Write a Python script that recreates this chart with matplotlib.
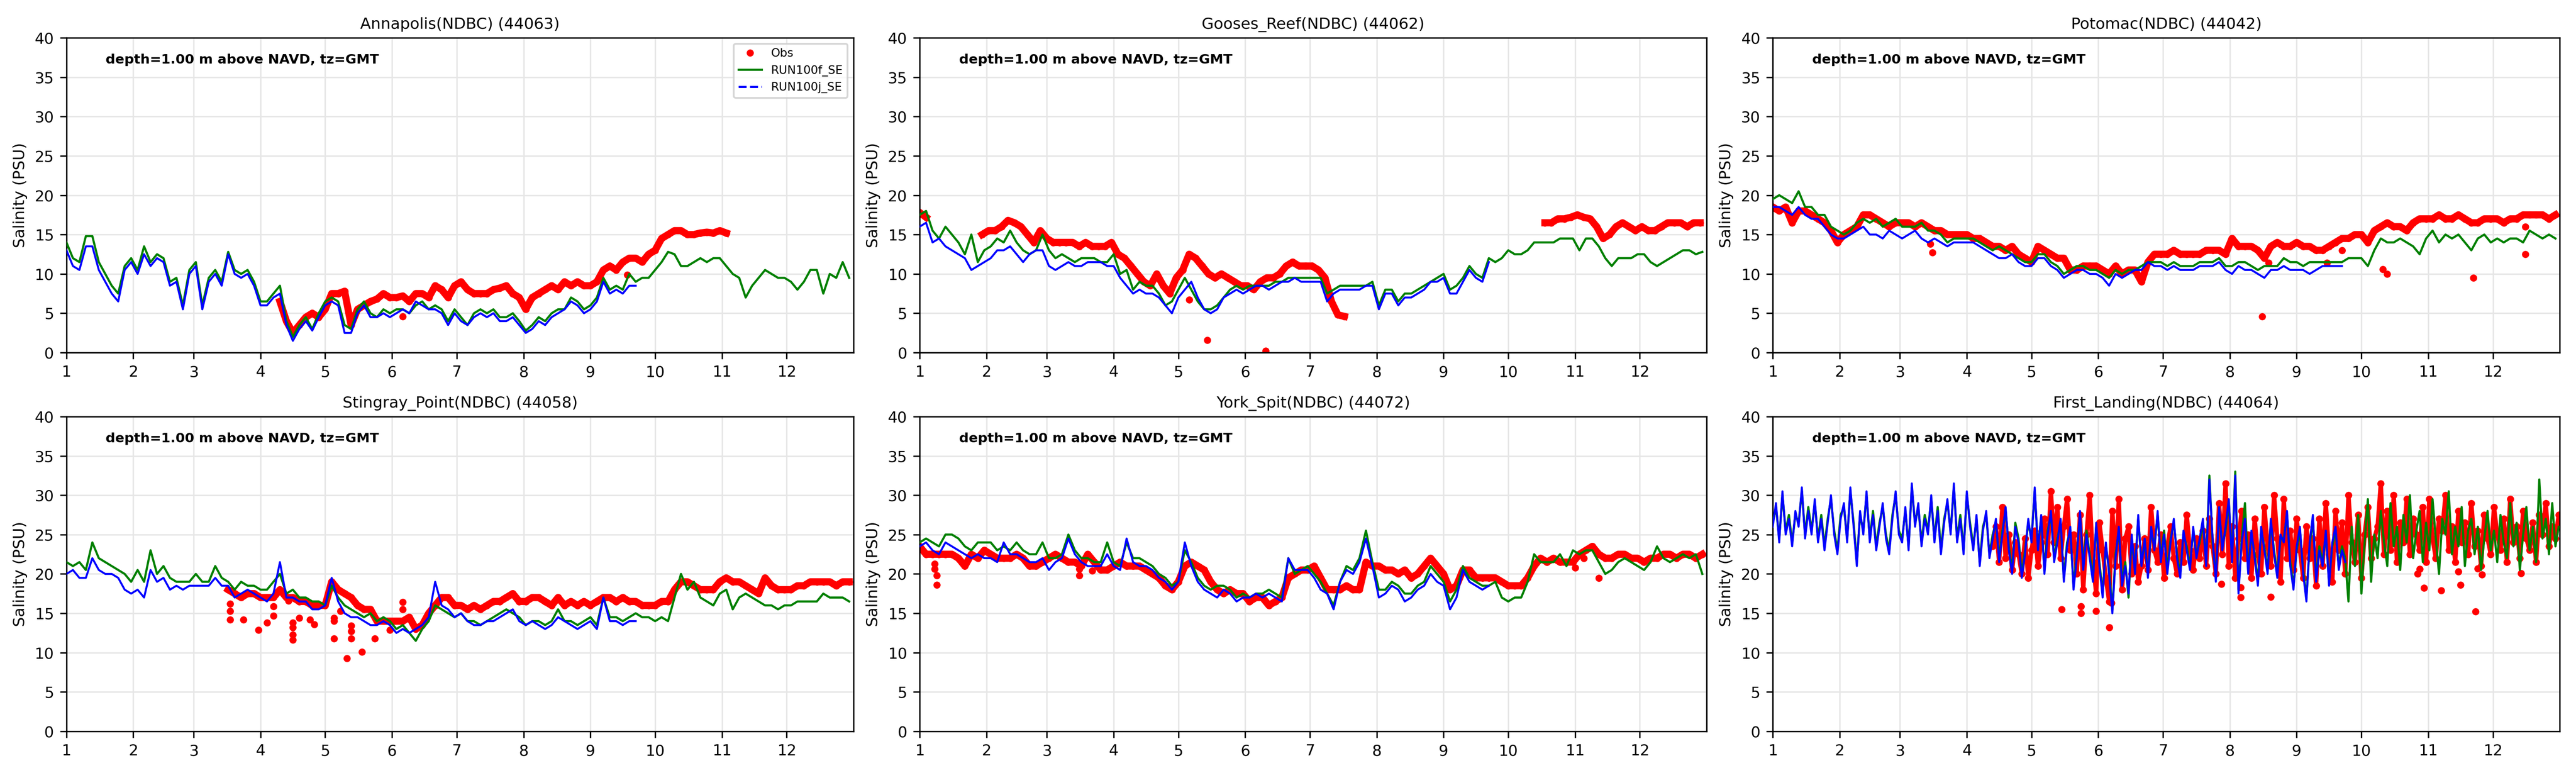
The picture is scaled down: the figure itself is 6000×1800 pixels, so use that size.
import numpy as np
import matplotlib
matplotlib.use('Agg')
import matplotlib.pyplot as plt
from matplotlib.lines import Line2D

# month starts (day of year, 0-based) used as x ticks 1..12
MONTH_START = [0, 31, 59, 90, 120, 151, 181, 212, 243, 273, 304, 334]
MONTH_LABELS = [str(m) for m in range(1, 13)]

STEP = 3.0      # days between read-off samples
FL_STEP = 1.5   # First_Landing is noisier, read at finer spacing

# ---------------- Annapolis(NDBC) (44063)
annapolis_f = [14, 12, 11.5, 14.8, 14.8, 11.5, 10, 8.5, 7.5, 11,
               12, 10.5, 13.5, 11.5, 12.5, 12, 9, 9.5, 6, 10.5,
               11.5, 6, 9.5, 10.5, 9, 12.8, 10.5, 10, 10.5, 9,
               6.5, 6.5, 7.5, 8.5, 4, 2, 3.5, 4.5, 3, 5,
               6.5, 7, 6.5, 3.5, 3, 5.5, 6.5, 5, 4.5, 5.5,
               5, 5.5, 5.5, 5, 6, 6.5, 5.5, 6, 5.5, 4,
               5.5, 4.5, 3.5, 5, 5.5, 5, 5.5, 4.5, 4.5, 5,
               4, 2.8, 3.5, 4.5, 4, 5, 5.5, 5.5, 7, 6.5,
               5.5, 6, 7, 9.5, 8, 8.5, 8, 10, 9, 9.5,
               9.5, 10.5, 11.5, 12.8, 12.5, 11, 11, 11.5, 12, 11.5,
               12, 12, 11, 10, 9.5, 7, 8.5, 9.5, 10.5, 10,
               9.5, 9.5, 9, 8, 9, 10.5, 10.5, 7.5, 10, 9.5,
               11.5, 9.5]
annapolis_j = [13, 11, 10.5, 13.5, 13.5, 10.5, 9, 7.5, 6.5, 10.5,
               11.5, 10, 12.5, 11, 12, 11.5, 8.5, 9, 5.5, 10,
               11, 5.5, 9, 10, 8.5, 12.5, 10, 9.5, 10, 8.5,
               6, 6, 7, 7.5, 3.5, 1.5, 3, 4, 2.8, 4.5,
               6, 6.5, 6, 2.5, 2.5, 5, 6, 4.5, 4.5, 5,
               4.5, 5, 5.5, 5, 6.5, 6, 5.5, 5.5, 5, 3.5,
               5, 4, 3.5, 4.5, 5, 4.5, 5, 4, 4, 4.5,
               3.5, 2.5, 3, 4, 3.5, 4.5, 5, 5.5, 6.5, 6,
               5, 5.5, 6.5, 9, 7.5, 8, 7.5, 8.5, 8.5]
annapolis_obs = [(99, [6.5, 4, 2.5, 3.5, 4.5, 5, 4.5, 5.5, 7.5, 7.5,
                       7.8, 3.5, 5.5, 6, 6.5, 6.8, 7.5, 7, 7, 7.2,
                       6.5, 7.5, 7.5, 7, 8.5, 8, 7, 8.5, 9, 8,
                       7.5, 7.5, 7.5, 8, 8.2, 8.5, 7.5, 7, 5.5, 7,
                       7.5, 8, 8.5, 8, 9, 8.5, 9, 8.5, 8.5, 9,
                       10.5, 11, 10.5, 11.5, 12, 12, 11.5, 12.5, 13, 14.5,
                       15, 15.5, 15.5, 15, 15, 15.2, 15.3, 15.2, 15.5, 15.2])]
annapolis_out_days = [156, 260]
annapolis_out_vals = [4.6, 9.9]

# ---------------- Gooses_Reef(NDBC) (44062)
gooses_f = [17.5, 18, 15.5, 14.5, 16, 15, 14, 12.5, 15, 11.5,
            13, 13.5, 14.5, 14, 15.5, 14, 13, 12.5, 13, 15,
            13, 12, 12.5, 12, 11.5, 12, 12, 12, 11.5, 11.5,
            12.5, 10, 10.5, 8, 9, 8.5, 8.5, 7.5, 6, 6.5,
            8, 9.5, 8, 6.5, 5.5, 5.5, 6, 7, 8, 8.5,
            8, 8.5, 8.5, 8.5, 8.5, 9, 9, 9.5, 9.5, 9.5,
            9.5, 9.5, 9.5, 7.5, 8, 8.5, 8.5, 8.5, 8.5, 8.5,
            9, 6, 8, 8, 6.5, 7.5, 7.5, 8, 8.5, 9,
            9.5, 10, 8, 8.5, 9.5, 11, 10, 9.5, 12, 11.5,
            12, 13, 12.5, 12.5, 13, 14, 14, 14, 14, 14.5,
            14.5, 14.5, 13, 14.5, 14.5, 13.5, 12, 11, 12, 12,
            12, 12.5, 12.5, 11.5, 11, 11.5, 12, 12.5, 13, 13,
            12.5, 12.8]
gooses_j = [16, 16.5, 14, 14.5, 13.5, 13, 12.5, 12, 10.5, 11,
            11.5, 12, 13, 13, 13.5, 12.5, 11.5, 12.5, 13, 13,
            11, 10.5, 11, 11.5, 11, 11, 11.5, 11.5, 11.5, 11,
            11, 9.5, 8.5, 7.5, 8, 7.5, 7.5, 7, 6, 5,
            7, 8, 9, 7, 5.5, 5, 5.5, 7, 7.5, 8,
            7.5, 8, 8.5, 8.5, 8, 8.5, 9, 9, 9.5, 9,
            9, 9, 9, 6.5, 7.5, 8, 8, 8, 8, 8.5,
            8.5, 5.5, 7.5, 7.5, 6, 7, 7, 7.5, 8, 9,
            9, 9.5, 7.5, 7.5, 9, 10.5, 9.5, 9, 11.5]
gooses_obs = [(0, [17.8, 17.2]),
              (29, [15, 15.5, 15.5, 16, 16.8, 16.5, 16, 15, 14, 15.5,
                    14.5, 14, 14, 14, 14, 13.5, 14, 13.5, 13.5, 13.5,
                    14, 12.5, 12, 11, 10, 9, 8.5, 10, 8.5, 7.5,
                    9.5, 10.5, 12.5, 12, 11, 10, 9.5, 10, 9.5, 9,
                    8.5, 8.5, 8, 9, 9.5, 9.5, 10, 11, 11.5, 11,
                    11, 11, 10.5, 9.5, 6.5, 4.8, 4.6]),
              (290, [16.5, 16.5, 17, 17, 17.2, 17.5, 17.2, 17, 16, 14.5,
                     15, 16, 16.5, 16, 15.5, 16, 15.5, 15.5, 16, 16.5,
                     16.5, 16.5, 16, 16.5, 16.5])]
gooses_out_days = [125, 133.5, 160.5]
gooses_out_vals = [6.7, 1.6, 0.2]

# ---------------- Potomac(NDBC) (44042)
potomac_f = [19.5, 20, 19.5, 19, 20.5, 18.5, 18.5, 17.5, 17.5, 16,
             15.5, 15, 15.5, 16.5, 17, 16.5, 17, 16, 16.5, 17,
             16, 16, 16, 16.5, 15.5, 15.5, 15, 14, 14.5, 14.5,
             14.5, 14.5, 14, 13.5, 13, 13.5, 13, 12.5, 12, 11.5,
             11.5, 12.5, 12.5, 11.5, 11, 10, 10.5, 11, 11, 10.5,
             10.5, 10, 9.5, 10.5, 10, 10.5, 10.5, 11, 11.5, 11.5,
             11.5, 11, 11.5, 11, 11, 11, 11.5, 11.5, 11.5, 12,
             11, 11, 11.5, 11.5, 11, 10.5, 11, 11, 11, 12,
             11.5, 11.5, 11, 11.5, 11.5, 11.5, 11.5, 11.5, 11.5, 12,
             12, 12, 11, 13, 14.5, 14, 14, 14.5, 14, 13.5,
             12.5, 14.5, 15.5, 14, 15, 14.5, 15, 14, 13, 14.5,
             15, 14, 14.5, 14, 14.5, 14.5, 14, 15.5, 15, 14.5,
             15, 14.5]
potomac_j = [18.5, 18.5, 18, 17.5, 18.5, 17.5, 17, 17, 16, 15,
             14.5, 14.5, 15, 15.5, 16, 15, 15, 14.5, 15.5, 15,
             14.5, 15, 15.5, 14.5, 14, 14.5, 14, 13.5, 14, 14,
             14, 14, 13.5, 13, 12.5, 12, 12, 12.5, 11.5, 11,
             11, 12, 12, 11, 10.5, 9.5, 10, 10.5, 10.5, 10,
             10, 9.5, 8.5, 10, 9.5, 10, 10.5, 10.5, 11.5, 11,
             11, 10.5, 11, 10.5, 10.5, 10.5, 11, 11, 11, 11.5,
             10.5, 10, 11, 10.5, 10.5, 10, 9.5, 10.5, 10.5, 11,
             10.5, 10.5, 10.5, 10, 10.5, 11, 11, 11, 11]
potomac_obs = [(0, [18.5, 18, 18.5, 16.5, 18, 18, 17.5, 17, 16.5, 15.5,
                    14, 15, 15.5, 16, 17.5, 17.5, 17, 16.5, 16, 16.5,
                    16.5, 16.5, 16, 16.5, 16, 15.5, 15.5, 15, 15, 15,
                    15, 14.5, 14.5, 14, 13.5, 13.5, 13, 13.5, 12.5, 12,
                    11.5, 13.5, 13, 12.5, 12, 12, 10.5, 10.5, 11, 11,
                    11, 10.5, 10, 11, 10, 10.5, 10.5, 9, 11.5, 12.5,
                    12.5, 12.5, 13, 12.5, 12.5, 12.5, 12.5, 13, 13, 13,
                    12.5, 14.5, 13.5, 13.5, 13.5, 13, 12, 13.5, 14, 13.5,
                    13.5, 14, 13.5, 13.5, 13, 13, 13.5, 14, 14.5, 14.5,
                    15, 15, 14, 15.5, 16, 16.5, 16, 16, 15.5, 16.5,
                    17, 17, 17, 17.5, 17, 17, 17.5, 17, 16.5, 16.5,
                    17, 17, 17, 16.5, 17, 17, 17.5, 17.5, 17.5, 17.5,
                    17, 17.5])]
potomac_out_days = [73, 74, 227, 230, 257, 264, 283, 285, 325, 349, 349]
potomac_out_vals = [13.8, 12.7, 4.6, 11.4, 11.4, 13, 10.6, 10, 9.5, 16, 12.5]

# ---------------- Stingray_Point(NDBC) (44058)
stingray_f = [21.5, 21, 21.5, 20.5, 24, 22, 21.5, 21, 20.5, 20,
              19, 20.5, 19, 23, 20, 21, 19.5, 19, 19, 19,
              20, 19, 19, 21, 19.5, 19, 18, 19, 18.5, 18.5,
              18, 18, 19, 20, 17.5, 18, 17, 17, 16.5, 16.5,
              16, 18.5, 17, 16, 15.5, 15, 14.5, 15, 14, 14.5,
              14, 13, 13.5, 12.5, 11.5, 13, 14, 16, 15.5, 15,
              14.5, 15, 14, 14, 13.5, 14, 14.5, 15, 15.5, 15,
              14.5, 13.5, 14, 14, 13.5, 14, 15.5, 14, 14, 13.5,
              14, 14.5, 13.5, 17, 14.5, 14.5, 14, 14.5, 15, 14.5,
              14.5, 14, 14.5, 14, 17, 20, 18, 19, 17, 16.5,
              16, 17.5, 18, 15.5, 17, 17.5, 17, 16.5, 16, 16,
              15.5, 16, 16, 16.5, 16.5, 16.5, 16.5, 17.5, 17, 17,
              17, 16.5]
stingray_j = [20, 20.5, 19.5, 19.5, 22, 20.5, 20, 20, 19.5, 18,
              17.5, 18, 17, 20.5, 19, 19.5, 18, 18.5, 18, 18.5,
              18.5, 18.5, 18.5, 19.5, 18.5, 18.5, 17, 17.5, 18, 17.5,
              17, 16.5, 17.5, 21.5, 17, 17, 16.5, 16.5, 15.5, 15.5,
              16, 19.5, 16.5, 15, 14.5, 14.5, 14, 13.5, 13.5, 14,
              13.5, 12.5, 13, 12.5, 13, 13.5, 14.5, 19, 16, 15.5,
              14.5, 15, 14, 13.5, 13.5, 14, 14, 14.5, 15, 15.5,
              14, 13.5, 14, 13.5, 13, 13.5, 14.5, 14, 13.5, 13,
              13.5, 14, 13, 17, 14, 14, 13.5, 14, 14]
stingray_obs = [(75, [18, 17.5, 17, 17.5, 17.5, 17, 17, 17, 18, 17,
                      17, 16.5, 16.5, 16, 16, 16, 19, 18, 17.5, 17,
                      16, 15.5, 15.5, 14, 14, 14, 14, 14, 14.5, 13,
                      13.5, 15, 16, 17, 17, 16, 16, 15.5, 16, 15.5,
                      16, 16.5, 16.5, 17, 17.5, 16.5, 16.5, 17, 17, 16.5,
                      16, 17, 16, 16.5, 16, 16.5, 16, 16.5, 17, 17,
                      16.5, 17, 16.5, 16.5, 16, 16, 16, 16.5, 16.5, 18,
                      19, 19, 18.5, 18, 18, 18, 19, 19.5, 19, 19,
                      18.5, 18, 17.5, 19.5, 18.5, 18, 18, 18, 18.5, 18.5,
                      19, 19, 19, 19, 18.5, 19, 19])]
stingray_out_days = [76, 76, 76, 82, 89, 93, 96, 96, 103, 105, 105, 105, 105, 108, 113,
                     115, 124, 124, 124, 127, 130, 132, 132, 132, 137, 143, 150, 156, 156]
stingray_out_vals = [16.2, 15.3, 14.2, 14.2, 12.9, 13.8, 15.9, 14.7, 16.6, 13.8, 13.2, 12.3, 11.6, 14.4, 14.2,
                     13.6, 14.4, 14, 11.8, 15.3, 9.3, 13.4, 12.7, 11.8, 10.1, 11.8, 12.9, 16.4, 15.5]

# ---------------- York_Spit(NDBC) (44072)
york_f = [24, 24.5, 24, 23.5, 25, 25, 24.5, 23.5, 23, 24,
          24, 24, 23, 23.5, 23, 24, 23, 22.5, 22.5, 24,
          22, 22, 22.5, 25, 23, 22, 22, 21.5, 21.5, 24,
          21.5, 21, 24, 22, 22, 21.5, 21, 20, 19.5, 18.5,
          19, 23, 21.5, 19.5, 18.5, 18, 18.5, 18.5, 18, 17,
          17.5, 17, 17.5, 17.5, 18, 17.5, 17, 22, 20, 20.5,
          21, 20, 19, 17.5, 16, 19, 21, 20.5, 22, 25.5,
          21.5, 18, 18, 19, 18.5, 17.5, 17.5, 18.5, 19, 21,
          20, 19, 16.5, 18, 21, 19.5, 19, 18.5, 18.5, 19,
          17, 16.5, 17, 17, 19, 22.5, 21.5, 21.5, 21.5, 22.5,
          21, 23, 22.5, 23, 23, 21.5, 20, 20.5, 21.5, 22,
          21.5, 21, 20.5, 21.5, 23.5, 22, 21.5, 22, 22.5, 22,
          22.5, 20]
york_j = [23.5, 24, 23, 22.5, 24, 23.5, 23, 22.5, 22, 22.5,
          22, 22, 21.5, 24, 22.5, 22.5, 22, 21.5, 21.5, 22,
          20.5, 21.5, 22, 24.5, 22.5, 21.5, 21, 21, 21, 22.5,
          21, 20.5, 24.5, 21.5, 21, 21, 20.5, 19.5, 19, 18,
          19, 24, 21, 19, 18, 17.5, 17, 18, 17.5, 16.5,
          17, 17, 17.5, 17, 17.5, 17, 16.5, 22, 20.5, 20.5,
          20.5, 19.5, 18, 17.5, 15.5, 19, 20.5, 20, 21.5, 24.5,
          21, 17, 17.5, 18.5, 18, 16.5, 17, 18, 18.5, 20,
          19, 18.5, 15.5, 17, 20.5, 19, 18.5, 18, 18.5]
york_obs = [(0, [23.5, 22.5, 22.5, 22.5, 22.5, 22.5, 22, 21, 22.5, 22,
                 23, 22.5, 22, 22, 22, 22.5, 22, 21, 21, 21.5,
                 22, 22.5, 22, 21.5, 21.5, 21, 22.5, 21.5, 20.5, 20.5,
                 21, 21.5, 21, 21, 21, 20.5, 20, 19.5, 18.5, 18,
                 19, 21, 21.5, 21, 20.5, 19, 18, 17.5, 18, 17.5,
                 17.5, 16.5, 17, 17, 16, 16.5, 17, 19.5, 20, 20.5,
                 20.5, 21, 19.5, 18, 18, 18, 18.5, 18, 18, 21.5,
                 21, 21, 20.5, 20.5, 20, 20.5, 19.5, 20, 21, 22,
                 21, 20, 18, 18.5, 20.5, 20.5, 19.5, 19.5, 19.5, 19.5,
                 19, 18.5, 18.5, 18.5, 19.5, 21, 22, 21.5, 22, 21.5,
                 21.5, 21.5, 22.5, 23, 23.5, 22.5, 22, 22, 22.5, 22.5,
                 22, 22, 21.5, 22, 22, 22.5, 22.5, 22, 22.5, 22.5,
                 22, 22.5])]
york_out_days = [7, 7, 8, 8, 74, 74, 80, 304, 308, 315]
york_out_vals = [21.3, 20.6, 19.8, 18.6, 20.6, 19.8, 20.4, 20.8, 22, 19.5]

# ---------------- First_Landing(NDBC) (44064), read every 1.5 days
landing_f = [26.5, 28.5, 24.5, 30, 25.5, 27.5, 24, 27.5, 26.5, 30.5, 25, 28.5, 25.5, 29, 24.5, 27.5, 23.5, 27, 29.5, 25.5,
             23, 27.5, 28.5, 24.5, 30.5, 26.5, 21.5, 27.5, 25.5, 30, 24.5, 28, 23.5, 26.5, 28.5, 25, 23, 27.5, 30, 25.5,
             24.5, 28, 23.5, 31, 26.5, 28.5, 24, 27.5, 25.5, 29.5, 24.5, 28.5, 23, 27, 29, 25.5, 31, 24.5, 27.5, 23, 30, 26.5,
             23.5, 27, 21.5, 26, 27.5, 22.5, 25, 26.5, 22, 25.5, 28, 23.5, 20.5, 26.5, 24.5, 20, 23, 26.5, 24.5,
             30.5, 23.5, 27, 20.5, 25.5, 27.5, 22, 24.5, 26.5, 19.5, 24, 25.5, 18.5, 22.5, 27.5, 21, 25.5, 22.5, 19.5, 26, 21.5,
             17.5, 23.5, 20.5, 15.5, 22.5, 25.5, 19, 21.5, 17, 24.5, 20.5,
             27, 21.5, 24, 20, 25.5, 23.5, 27.5, 22, 25.5, 20.5, 24.5, 26.5, 22.5, 20, 25, 23.5, 21, 25.5, 22.5, 24,
             26.5, 21.5, 32.5, 24, 19.5, 28, 23.5, 25.5, 29, 22, 33, 18,
             24.5, 29, 20.5, 25, 22.5, 19, 25.5, 23.5, 20.5, 26.5, 23, 20, 24.5, 24.5, 27.5, 21.5, 18.5, 23, 25.5, 20.5,
             17, 23.5, 27, 19.5, 23.5, 21.5, 25, 19, 23.5, 25.5, 21, 23.5, 22,
             16.5, 26, 21, 27.5, 17.5, 24, 29.5, 19, 25, 22, 28,
             24, 21, 29, 23.5, 26, 20.5, 27.5, 24, 30, 22, 25.5, 28, 21.5, 26.5, 23, 29.5, 24.5, 20, 27, 25,
             30.5, 22.5, 26, 23.5, 28.5, 21, 25.5, 27, 22.5, 26, 20.5, 24.5, 28, 23, 25.5, 21.5, 27.5, 24, 22, 29,
             23.5, 26.5, 20.5, 25, 28.5, 23, 26, 21.5, 32, 24.5, 27, 22.5, 29, 23.5, 26]
landing_j = [26, 29, 24, 30.5, 25, 27, 23.5, 28, 26, 31, 24.5, 28, 25, 29.5, 24, 27, 23, 26.5, 30, 25,
             22.5, 27, 29, 24, 31, 26, 21, 28, 25, 30.5, 24, 27.5, 23, 26, 29, 24.5, 22.5, 27, 30.5, 25,
             24, 28.5, 23, 31.5, 26, 29, 23.5, 27, 25, 30, 24, 28, 22.5, 26.5, 29.5, 25, 31.5, 24, 27, 22.5, 30.5, 26,
             23, 27.5, 21, 25.5, 28, 22, 24.5, 27, 21.5, 25, 28.5, 23, 20, 26, 24, 19.5, 22.5, 27, 24,
             31, 23, 27.5, 20, 25, 28, 21.5, 24, 27, 19, 23.5, 26, 18, 22, 28, 20.5, 25, 22, 19, 26.5, 21,
             17, 24, 20, 15, 22, 26, 18.5, 21, 17.5, 25, 20,
             27.5, 21, 24.5, 19.5, 26, 23, 28, 21.5, 25, 20, 24, 27, 22, 19.5, 25.5, 23, 20.5, 26, 22, 24.5,
             27, 21, 32, 24.5, 19, 28.5, 23, 26, 29.5, 21.5, 32.5, 17.5,
             24, 27, 20, 25.5, 22, 18.5, 26, 23, 20, 27, 22.5, 19.5, 25, 24, 28, 21, 18, 23.5, 26, 20,
             16.5, 24, 27.5, 19, 23, 21, 25.5, 18.5, 24, 26, 20.5, 23, 21.5]
landing_obs = [(102, [23.5, 26, 21.5, 28.5, 22, 25, 20.5, 24, 22.5,
                      20, 24.5, 19.5, 23, 25.5, 21, 24,
                      27, 22.5, 30.5, 24, 28.5, 22, 26, 29.5, 23, 25,
                      20, 27.5, 18, 25, 30, 21.5, 17.5, 26.5, 23, 19.5,
                      16.5, 28, 21, 29.5, 18, 24.5, 26, 20, 23.5, 19,
                      21, 24.5, 20.5, 28.5, 23, 21.5, 25, 19.5, 23.5, 26, 22, 20, 24, 21.5, 27.5, 23, 20.5, 24.5, 22, 25.5,
                      21, 27, 23.5, 20, 29, 22.5, 31.5, 21, 26, 19.5, 24.5, 28, 22,
                      25, 19.5, 27, 22.5, 20, 28.5, 23.5, 21, 30, 24.5, 19, 29.5, 22, 25.5, 20.5, 27, 23, 19.5, 26, 22,
                      24.5, 18.5, 27, 21, 29, 22.5, 19, 28, 23, 26.5, 20, 30, 24, 21.5, 27.5, 19.5, 25, 28.5, 22, 24.5,
                      26, 31.5, 22.5, 28, 23, 30, 21.5, 26.5, 24, 29.5, 22.5, 27, 25,
                      23, 28.5, 21.5, 29.5, 24.5, 22, 27, 25.5, 30, 23, 26, 21.5, 28, 24, 26.5, 22.5, 29, 23.5, 25.5, 21,
                      27.5, 24.5, 22.5, 28.5, 25, 23, 27, 21.5, 29.5, 24, 26, 22, 28, 24.5, 23, 26.5, 21.5, 27.5, 25, 29,
                      23.5, 26, 24.5, 27.5])]
landing_out_days = [134, 143, 143, 150, 156, 157, 208, 217, 217, 231, 299, 300, 302, 310, 318, 319, 326, 327, 329, 347]
landing_out_vals = [15.5, 15.9, 15.0, 15.3, 13.2, 16.3, 18.7, 18.3, 17, 17.1, 20, 20.6, 18.2, 17.9, 20.3, 18.6, 15.2, 20.7, 19.9, 20.1]

stations = [
    dict(title='Annapolis(NDBC) (44063)', step=STEP, f=annapolis_f, j=annapolis_j,
         obs=annapolis_obs, od=annapolis_out_days, ov=annapolis_out_vals),
    dict(title='Gooses_Reef(NDBC) (44062)', step=STEP, f=gooses_f, j=gooses_j,
         obs=gooses_obs, od=gooses_out_days, ov=gooses_out_vals),
    dict(title='Potomac(NDBC) (44042)', step=STEP, f=potomac_f, j=potomac_j,
         obs=potomac_obs, od=potomac_out_days, ov=potomac_out_vals),
    dict(title='Stingray_Point(NDBC) (44058)', step=STEP, f=stingray_f, j=stingray_j,
         obs=stingray_obs, od=stingray_out_days, ov=stingray_out_vals),
    dict(title='York_Spit(NDBC) (44072)', step=STEP, f=york_f, j=york_j,
         obs=york_obs, od=york_out_days, ov=york_out_vals),
    dict(title='First_Landing(NDBC) (44064)', step=FL_STEP, f=landing_f, j=landing_j,
         obs=landing_obs, od=landing_out_days, ov=landing_out_vals),
]


def days_for(vals, start=0.0, step=STEP):
    return start + step * np.arange(len(vals))


fig, axes = plt.subplots(2, 3, figsize=(20, 6), dpi=300)
plt.subplots_adjust(left=0.0258, right=0.9937, top=0.9511, bottom=0.0539,
                    wspace=0.084, hspace=0.203)

for ax, st in zip(axes.flat, stations):
    step = st['step']
    # obs band is a dense cloud of points in the original; thinner for the noisy station
    band_lw = 4.0 if step == STEP else 2.4
    for start, vals in st['obs']:
        d = days_for(vals, start, step)
        ax.plot(d, vals, color='red', lw=band_lw, zorder=2)
        ax.plot(d, vals, 'o', color='red', ms=3, zorder=2)
    ax.plot(st['od'], st['ov'], 'o', color='red', ms=3, zorder=2)
    ax.plot(days_for(st['f'], 0, step), st['f'], color='green', lw=1.2, zorder=3)
    # dense model output reads as a solid line; dashes only visible in the legend
    ax.plot(days_for(st['j'], 0, step), st['j'], color='blue', lw=1.1, zorder=4)

    ax.set_xlim(0, 365)
    ax.set_ylim(0, 40)
    ax.set_xticks(MONTH_START)
    ax.set_xticklabels(MONTH_LABELS)
    ax.set_yticks(range(0, 41, 5))
    ax.tick_params(labelsize=8.5)
    ax.grid(True, color='#e6e6e6', lw=0.8)
    ax.set_axisbelow(True)
    ax.set_title(st['title'], fontsize=8.7, pad=5)
    ax.set_ylabel('Salinity (PSU)', fontsize=8.7)
    ax.text(0.05, 0.95, 'depth=1.00 m above NAVD, tz=GMT', transform=ax.transAxes,
            fontsize=7.5, fontweight='bold', va='top', ha='left')

handles = [Line2D([], [], color='red', marker='o', ls='none', ms=3),
           Line2D([], [], color='green', lw=1.2),
           Line2D([], [], color='blue', lw=1.2, ls='--')]
axes[0, 0].legend(handles, ['Obs', 'RUN100f_SE', 'RUN100j_SE'],
                  loc='upper right', fontsize=6.5)

plt.savefig('out.png', dpi=300)
plt.close()
